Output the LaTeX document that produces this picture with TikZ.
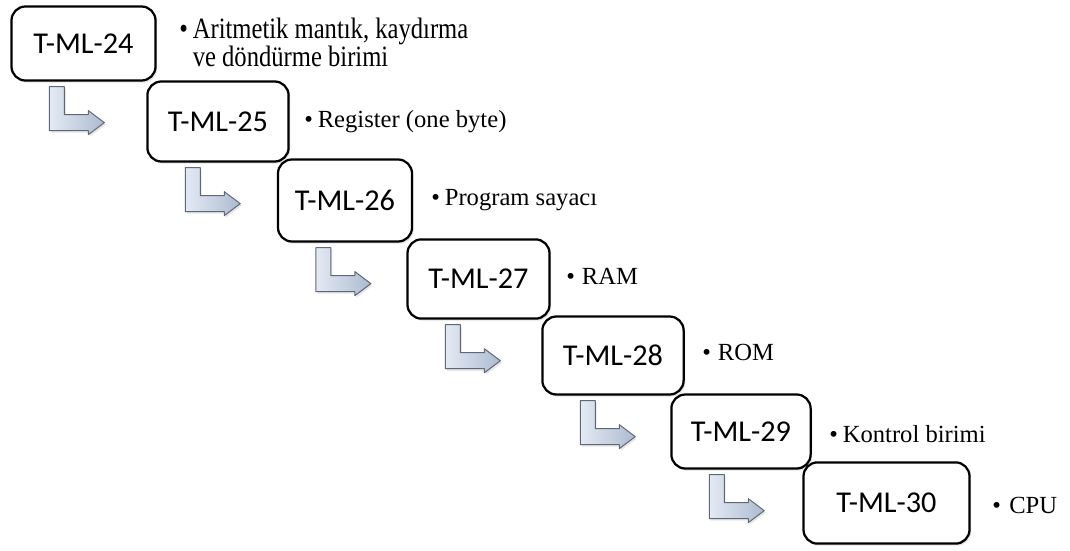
\documentclass[tikz,border=0pt]{standalone}
\usepackage{fontspec}
\setmainfont{Liberation Serif}
\newfontfamily\boxfont{Carlito}
\usetikzlibrary{shadows}

\definecolor{bendlight}{RGB}{228,234,244}
\definecolor{benddark}{RGB}{172,186,208}
\definecolor{bendline}{RGB}{96,104,120}

\begin{document}
\begin{tikzpicture}[x=0.025cm,y=-0.025cm]
\tikzstyle{box} = [draw, line width=1.6pt, rounded corners=0.35cm, fill=white, font=\boxfont\fontsize{21.5}{25}\selectfont, drop shadow={shadow xshift=1.2pt, shadow yshift=-1.5pt, opacity=.22}]
\tikzstyle{note} = [anchor=base west, inner sep=0pt, font=\fontsize{17.5}{20}\selectfont]
\tikzstyle{bentarrow} = [draw=bendline, line width=.7pt, line join=round, left color=bendlight, right color=benddark, drop shadow={shadow xshift=1pt, shadow yshift=-1.5pt, opacity=.2}]
\useasboundingbox (0,0) rectangle (1070,551);

\node[box, minimum width=3.6cm, minimum height=1.85cm] (b24) at (83.5,43.5) {T-ML-24};
\node[box, minimum width=3.53cm, minimum height=2.0cm] (b25) at (218,121.5) {T-ML-25};
\node[box, minimum width=3.35cm, minimum height=2.05cm] (b26) at (345,200.5) {T-ML-26};
\node[box, minimum width=3.55cm, minimum height=1.98cm] (b27) at (478.5,279) {T-ML-27};
\node[box, minimum width=3.53cm, minimum height=1.95cm] (b28) at (613,355.5) {T-ML-28};
\node[box, minimum width=3.48cm, minimum height=1.85cm] (b29) at (741,431.5) {T-ML-29};
\node[box, minimum width=4.15cm, minimum height=2.03cm] (b30) at (886.5,503) {T-ML-30};

% bent arrows under each box
\foreach \n in {24,...,29} {
  \begin{scope}[shift={(b\n.south west)}]
    \path[bentarrow] (39,5) -- (54,5) -- (54,33) -- (78,33) -- (78,29) -- (94,41)
      -- (78,53) -- (78,49) -- (39,49) -- cycle;
  \end{scope}
}

\node[note] (n24) at (179,39) {\scalebox{1}[1.2]{\vtop{\baselineskip=16.2pt\lineskiplimit=-10pt
  \hbox{\textbullet\hspace{3.5pt}Aritmetik mantık, kaydırma}
  \hbox{\hphantom{\textbullet\hspace{3.5pt}}ve döndürme birimi}}}};
\node[note] (n25) at (304,128) {\textbullet\hspace{3.5pt}Register (one byte)};
\node[note] (n26) at (431,205) {\textbullet\hspace{3.5pt}Program sayacı};
\node[note] (n27) at (566,284) {\textbullet\hspace{5pt}RAM};
\node[note] (n28) at (702,360) {\textbullet\hspace{5pt}ROM};
\node[note] (n29) at (829,442) {\textbullet\hspace{3.5pt}Kontrol birimi};
\node[note] (n30) at (992,513) {\textbullet\hspace{6pt}CPU};
\end{tikzpicture}
\end{document}
